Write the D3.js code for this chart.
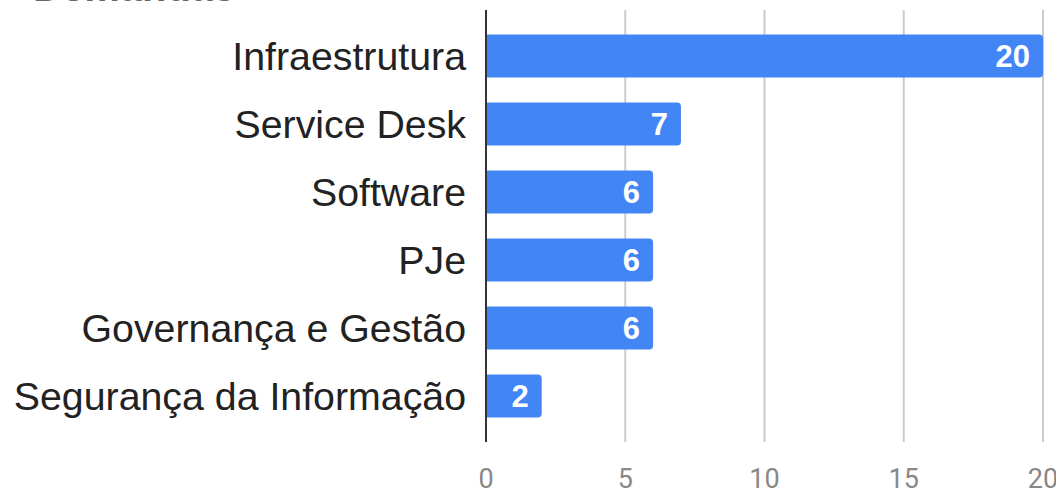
<!DOCTYPE html>
<html>
<head>
<meta charset="utf-8">
<script src="https://cdn.jsdelivr.net/npm/d3@7"></script>
<style>
  body { margin: 0; background: #fff; overflow: hidden; }
  svg { display: block; }
</style>
</head>
<body>
<svg id="chart"></svg>
<script>
const categories = ['Infraestrutura', 'Service Desk', 'Software', 'PJe', 'Governança e Gestão', 'Segurança da Informação'];
const values = [20, 7, 6, 6, 6, 2];
const ticks = [0, 5, 10, 15, 20];

const width = 1056, height = 489;
const margin = {top: 10, right: 13, bottom: 47, left: 486};

const svg = d3.select('#chart')
  .attr('width', width)
  .attr('height', height);

// title, cut off at top edge
svg.append('text')
  .attr('x', 33)
  .attr('y', 1)
  .attr('font-family', 'Liberation Sans, Arial, sans-serif')
  .attr('font-size', 40)
  .attr('font-weight', 'bold')
  .attr('fill', '#666')
  .text('Demandas');

const x = d3.scaleLinear()
  .domain([0, 20])
  .range([margin.left, width - margin.right]);

const y = d3.scaleBand()
  .domain(categories)
  .range([22, 430])
  .paddingInner(0.37)
  .paddingOuter(0.185);

// gridlines
svg.append('g')
  .selectAll('line')
  .data(ticks.filter(d => d > 0))
  .join('line')
  .attr('x1', d => x(d))
  .attr('x2', d => x(d))
  .attr('y1', margin.top)
  .attr('y2', height - margin.bottom)
  .attr('stroke', '#cccccc')
  .attr('stroke-width', 2);

// tick labels
svg.append('g')
  .selectAll('text')
  .data(ticks)
  .join('text')
  .attr('x', d => x(d))
  .attr('y', 488)
  .attr('text-anchor', 'middle')
  .attr('font-family', 'Roboto, sans-serif')
  .attr('font-size', 27)
  .attr('fill', '#888')
  .text(d => d);

const data = categories.map((c, i) => ({label: c, value: values[i]}));

// bars with rounded right end
const r = 4;
svg.append('g')
  .selectAll('path')
  .data(data)
  .join('path')
  .attr('d', d => {
    const x0 = x(0), x1 = x(d.value), y0 = y(d.label), h = y.bandwidth();
    return `M${x0},${y0}H${x1 - r}A${r},${r} 0 0 1 ${x1},${y0 + r}V${y0 + h - r}A${r},${r} 0 0 1 ${x1 - r},${y0 + h}H${x0}Z`;
  })
  .attr('fill', '#4285f4');

// value labels
svg.append('g')
  .selectAll('text')
  .data(data)
  .join('text')
  .attr('x', d => x(d.value) - 13)
  .attr('y', d => y(d.label) + y.bandwidth() / 2)
  .attr('dy', '0.36em')
  .attr('text-anchor', 'end')
  .attr('font-family', 'Liberation Sans, Arial, sans-serif')
  .attr('font-size', 31)
  .attr('font-weight', 'bold')
  .attr('fill', '#fff')
  .text(d => d.value);

// category labels
svg.append('g')
  .selectAll('text')
  .data(data)
  .join('text')
  .attr('x', 466)
  .attr('y', d => y(d.label) + y.bandwidth() / 2)
  .attr('dy', '0.36em')
  .attr('text-anchor', 'end')
  .attr('font-family', 'Liberation Sans, Arial, sans-serif')
  .attr('font-size', 39.3)
  .attr('fill', '#222')
  .text(d => d.label);

// zero axis line
svg.append('line')
  .attr('x1', x(0))
  .attr('x2', x(0))
  .attr('y1', margin.top)
  .attr('y2', height - margin.bottom)
  .attr('stroke', '#333')
  .attr('stroke-width', 2);
</script>
</body>
</html>
